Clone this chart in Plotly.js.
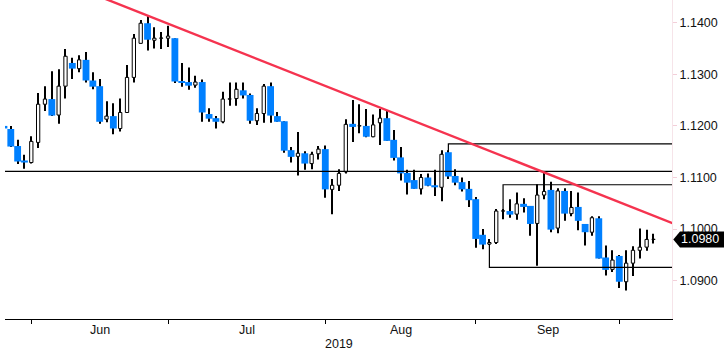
<!DOCTYPE html>
<html><head><meta charset="utf-8">
<script src="https://cdn.plot.ly/plotly-3.0.1.min.js"></script>
<style>html,body{margin:0;padding:0;background:#fff;}#chart{width:725px;height:351px;}</style>
</head><body><div id="chart"></div>
<script>
// Trading-day index of each candle (0 = 3 Jun 2019)
const firstIndex = -4;
const openP  = [1.1200,1.1194,1.1161,1.1133,1.1129,1.1168,1.1242,1.1252,1.1221,1.1277,1.1322,1.1311,1.1328,1.1288,1.1277,1.1213,1.1219,1.1195,1.1226,1.1294,1.1360,1.1399,1.1366,1.1370,1.1370,1.1370,1.1287,1.1285,1.1279,1.1285,1.1223,1.1215,1.1208,1.1252,1.1253,1.1269,1.1260,1.1210,1.1224,1.1277,1.1219,1.1209,1.1153,1.1141,1.1147,1.1127,1.1146,1.1155,1.1077,1.1085,1.1111,1.1204,1.1200,1.1200,1.1179,1.1206,1.1215,1.1173,1.1139,1.1109,1.1095,1.1078,1.1100,1.1085,1.1081,1.1149,1.1103,1.1091,1.1078,1.1058,1.0989,1.0971,1.0974,1.1035,1.1035,1.1029,1.1049,1.1045,1.1011,1.1066,1.1076,1.1002,1.1074,1.1030,1.1043,1.1010,1.0994,1.1021,1.0945,1.0922,1.0948,1.0898,1.0934,1.0959,1.0965,1.0980];
const highP  = [1.1202,1.1200,1.1173,1.1144,1.1180,1.1264,1.1277,1.1306,1.1310,1.1349,1.1332,1.1337,1.1343,1.1304,1.1291,1.1248,1.1244,1.1253,1.1318,1.1378,1.1405,1.1413,1.1391,1.1382,1.1394,1.1370,1.1322,1.1313,1.1297,1.1290,1.1234,1.1219,1.1266,1.1284,1.1284,1.1284,1.1263,1.1234,1.1281,1.1284,1.1227,1.1209,1.1159,1.1188,1.1151,1.1150,1.1161,1.1162,1.1097,1.1116,1.1213,1.1250,1.1242,1.1233,1.1222,1.1233,1.1231,1.1192,1.1159,1.1115,1.1115,1.1107,1.1108,1.1115,1.1153,1.1153,1.1116,1.1100,1.1093,1.1062,1.1000,1.0981,1.1039,1.1039,1.1058,1.1071,1.1060,1.1045,1.1087,1.1109,1.1092,1.1079,1.1079,1.1074,1.1071,1.1010,1.1025,1.1025,1.0968,1.0959,1.0950,1.0959,1.0967,1.1001,1.0999,1.0991];
const lowP   = [1.1193,1.1159,1.1126,1.1117,1.1127,1.1157,1.1229,1.1219,1.1204,1.1253,1.1291,1.1304,1.1284,1.1271,1.1204,1.1207,1.1184,1.1189,1.1226,1.1284,1.1360,1.1346,1.1350,1.1349,1.1353,1.1283,1.1276,1.1270,1.1274,1.1208,1.1208,1.1195,1.1205,1.1239,1.1239,1.1253,1.1204,1.1202,1.1206,1.1206,1.1208,1.1148,1.1129,1.1104,1.1115,1.1116,1.1135,1.1061,1.1029,1.1074,1.1108,1.1169,1.1186,1.1178,1.1178,1.1163,1.1171,1.1133,1.1094,1.1067,1.1078,1.1067,1.1083,1.1064,1.1054,1.1097,1.1085,1.1073,1.1043,1.0964,1.0961,1.0969,1.0971,1.1019,1.1022,1.1018,1.1032,1.0987,1.0929,1.1058,1.0994,1.0992,1.1016,1.1025,1.0998,1.0968,1.0987,1.0943,1.0910,1.0917,1.0886,1.0881,1.0909,1.0943,1.0958,1.0972];
const closeP = [1.1195,1.1160,1.1131,1.1129,1.1170,1.1242,1.1252,1.1220,1.1277,1.1335,1.1311,1.1328,1.1288,1.1276,1.1208,1.1219,1.1195,1.1226,1.1294,1.1370,1.1399,1.1367,1.1370,1.1370,1.1374,1.1286,1.1284,1.1278,1.1285,1.1226,1.1214,1.1208,1.1252,1.1252,1.1271,1.1259,1.1210,1.1224,1.1277,1.1220,1.1208,1.1152,1.1140,1.1147,1.1127,1.1145,1.1155,1.1077,1.1085,1.1108,1.1203,1.1198,1.1200,1.1179,1.1202,1.1215,1.1171,1.1138,1.1108,1.1090,1.1078,1.1100,1.1084,1.1081,1.1145,1.1102,1.1090,1.1077,1.1056,1.0981,1.0970,1.0974,1.1035,1.1035,1.1028,1.1049,1.1043,1.1010,1.1066,1.1073,1.0999,1.1074,1.1030,1.1042,1.1016,1.0994,1.1022,1.0943,1.0921,1.0940,1.0898,1.0934,1.0959,1.0965,1.0980,1.0980];

const monthStarts = [0, 20, 43, 65, 86];          // first trading day of Jun, Jul, Aug, Sep, Oct
const monthLabels = ['Jun', 'Jul', 'Aug', 'Sep'];
const yearLabel = '2019';
const yTicks = [1.09, 1.10, 1.11, 1.12, 1.13, 1.14];

// drawn analysis lines
const trendX = [8, 95], trendY = [1.1461, 1.1005];
const levelFull = 1.1112;
const bracketUpper = {x: 61, from: 1.1150, level: 1.1165};
const bracketMid   = {x: 69, from: 1.1035, level: 1.1086};
const bracketLow   = {x: 67, from: 1.0971, level: 1.0926};

const xRange = [-3.847, 93.708];
const yRange = [1.08258, 1.1444];
const BLUE = '#0080ff';
const FONT = 'Liberation Sans, Arial, sans-serif';

const xs = openP.map((_, k) => firstIndex + k);
const bullX = [], bullB = [], bullH = [], bearX = [], bearB = [], bearH = [];
openP.forEach((o, k) => {
  const c = closeP[k];
  if (c >= o) { bullX.push(xs[k]); bullB.push(o); bullH.push(Math.max(c - o, 0.00003)); }
  else { bearX.push(xs[k]); bearB.push(c); bearH.push(o - c); }
});

const traces = [
  {type: 'bar', x: xs, base: lowP, y: highP.map((h, k) => h - lowP[k]), width: 0.15,
   marker: {color: '#000', line: {width: 0}}, hoverinfo: 'skip'},
  {type: 'bar', x: bullX, base: bullB, y: bullH, width: 0.48,
   marker: {color: '#fff', line: {color: '#000', width: 1}}, hoverinfo: 'skip'},
  {type: 'bar', x: bearX, base: bearB, y: bearH, width: 1.0,
   marker: {color: BLUE, line: {width: 0}}, hoverinfo: 'skip'}
];

const yP = v => (v - yRange[0]) / (yRange[1] - yRange[0]);
const plotW = 667, plotH = 319;
const last = closeP[closeP.length - 1];
const yc = yP(last), hh = 8 / plotH;
const tip = 1 + 1.3 / plotW, bl = 1 + 8 / plotW, br = 1 + 52 / plotW;

const bracket = b => ({type: 'path', xref: 'x', yref: 'y',
  path: `M${b.x},${b.from} L${b.x},${b.level} L${xRange[1] + 2},${b.level}`,
  line: {color: '#000', width: 1.2}});

const shapes = [
  {type: 'line', xref: 'paper', yref: 'y', x0: 0, x1: 1, y0: levelFull, y1: levelFull, line: {color: '#000', width: 1.2}},
  bracket(bracketUpper), bracket(bracketMid), bracket(bracketLow),
  {type: 'line', xref: 'x', yref: 'y', x0: trendX[0], x1: trendX[1], y0: trendY[0], y1: trendY[1], line: {color: '#f5334f', width: 2.4}},
  {type: 'path', xref: 'paper', yref: 'paper',
   path: `M${tip},${yc} L${bl},${yc + hh} L${br},${yc + hh} L${br},${yc - hh} L${bl},${yc - hh} Z`,
   fillcolor: '#000', line: {width: 0}}
];

const annotations = monthLabels.map((m, k) => ({
  text: m, x: (monthStarts[k] + monthStarts[k + 1]) / 2, xref: 'x', y: 0, yref: 'paper',
  yanchor: 'top', yshift: -2, showarrow: false, font: {family: FONT, size: 12.5, color: '#111'}
}));
annotations.push({text: yearLabel, x: 0.5, xref: 'paper', y: 0, yref: 'paper', yanchor: 'top', yshift: -16,
  showarrow: false, font: {family: FONT, size: 12.5, color: '#111'}});
annotations.push({text: last.toFixed(4), x: bl, xref: 'paper', xanchor: 'left', y: last, yref: 'y',
  showarrow: false, xshift: -1, font: {family: FONT, size: 12.5, color: '#fff'}});

const layout = {
  width: 725, height: 351, margin: {l: 5, r: 53, t: 0, b: 32},
  paper_bgcolor: '#fff', plot_bgcolor: '#fff', showlegend: false, barmode: 'overlay',
  xaxis: {range: xRange, showgrid: false, zeroline: false, showline: true, linecolor: '#000', linewidth: 1,
    tickvals: monthStarts, ticktext: monthStarts.map(() => ''), ticks: 'outside', ticklen: 4, tickcolor: '#000', tickwidth: 1,
    fixedrange: true},
  yaxis: {range: yRange, side: 'right', showgrid: false, zeroline: false, showline: true, linecolor: '#f6e4e9', linewidth: 1,
    tickvals: yTicks, tickformat: '.4f', ticks: 'outside', ticklen: 4, tickcolor: '#f3cfd9',
    tickfont: {family: FONT, size: 12.5, color: '#111'}, fixedrange: true},
  shapes: shapes, annotations: annotations
};

Plotly.newPlot('chart', traces, layout, {displayModeBar: false, responsive: false});
</script></body></html>
